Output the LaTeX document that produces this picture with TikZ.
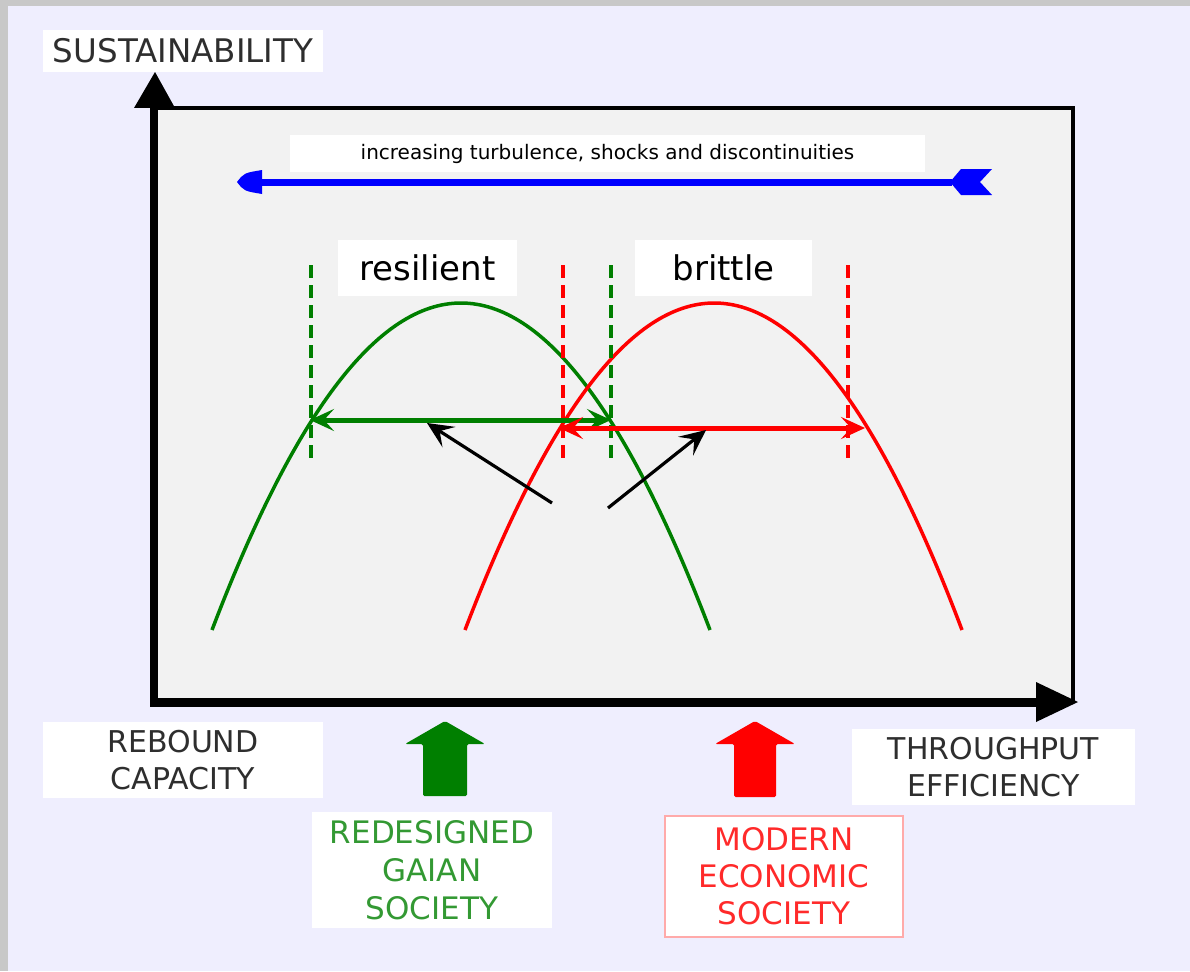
\documentclass[tikz,border=0pt]{standalone}
\usepackage{fontspec}
\setmainfont{DejaVu Sans}
\usetikzlibrary{arrows.meta}
\definecolor{bgout}{HTML}{C8C8C8}
\definecolor{lav}{HTML}{EFEEFE}
\definecolor{plotbg}{HTML}{F2F2F2}
\definecolor{gcurve}{HTML}{007F00}
\definecolor{rcurve}{HTML}{FF0000}
\definecolor{gtext}{HTML}{339933}
\definecolor{rtext}{HTML}{FF2A2A}
\definecolor{lbltext}{HTML}{2E2E2E}
\definecolor{pinkbd}{HTML}{FFAAAA}
\definecolor{blueline}{HTML}{0000FF}
\begin{document}
\begin{tikzpicture}[x=1pt,y=-1pt,
  whitebox/.style={fill=white, draw=none, inner sep=0pt, align=center},
  axlbl/.style={whitebox, text=lbltext, font=\fontsize{30}{37}\selectfont},
  comic/.style={whitebox, text=black, font=\fontsize{34}{40}\selectfont},
  curve/.style={line width=3.5pt},
  vdash/.style={line width=4pt, dash pattern=on 13pt off 7pt},
  dbl/.style={line width=5pt, {Stealth[length=24pt 0 0,width=22pt 0 0,inset=10pt 0]}-{Stealth[length=24pt 0 0,width=22pt 0 0,inset=10pt 0]}},
  shiftarrow/.style={line width=3.2pt, -{Stealth[length=26pt 0 0,width=24pt 0 0,inset=11pt 0]}}
]
\useasboundingbox (0,0) rectangle (1190,971);
\fill[bgout] (0,0) rectangle (1190,971);
\fill[lav] (8,6) rectangle (1190,971);

% plot area
\fill[plotbg] (154,108) rectangle (1073,702);
\coordinate (tl) at (154,108);
\coordinate (tr) at (1073,108);
\coordinate (br) at (1073,702);
\draw[line width=3.5pt] (tl) -- (tr) -- (br);
% axes
\coordinate (origin) at (154,702);
\coordinate (yhead) at (154,108);
\coordinate (xhead) at (1036,702);
\draw[line width=8pt] (154,706) -- (yhead);
\draw[line width=9pt] (150,702) -- (xhead);
\fill (134,108) -- (155,72) -- (175,108) -- cycle;
\fill (1036,682) -- (1078,702) -- (1036,722) -- cycle;

% labels
\node[axlbl, font=\fontsize{32.5}{38}\selectfont, minimum width=280pt, minimum height=42pt] (sust) at (183,51) {SUSTAINABILITY};
\node[axlbl, minimum width=280pt, minimum height=76pt] (rebound) at (183,760) {REBOUND\\CAPACITY};
\node[axlbl, minimum width=283pt, minimum height=76pt] (through) at (993.5,767) {THROUGHPUT\\EFFICIENCY};
\node[whitebox, text=gtext, font=\fontsize{31}{38}\selectfont, minimum width=240pt, minimum height=116pt] (gaian) at (432,870) {REDESIGNED\\GAIAN\\SOCIETY};
\node[whitebox, draw=pinkbd, line width=1.2pt, text=rtext, font=\fontsize{31}{37}\selectfont, minimum width=238pt, minimum height=121pt] (modern) at (784,876.5) {MODERN\\ECONOMIC\\SOCIETY};

% turbulence
\node[whitebox, text=black, font=\fontsize{20}{24}\selectfont, minimum width=635pt, minimum height=37pt] (turb) at (607.5,153.5) {increasing turbulence, shocks and discontinuities};
\coordinate (bl) at (262,182);
\coordinate (bt) at (952,182);
\draw[blueline, line width=7pt] (bl) -- (bt);
\fill[blueline] (237,182) .. controls (244,173) .. (262,170) -- (262,194) .. controls (244,191) .. cycle;
\fill[blueline] (950,182) -- (961,169) -- (992,169) -- (980,182) -- (992,195) -- (961,195) -- cycle;

\node[comic, minimum width=179pt, minimum height=56pt] (res) at (427.5,268) {resilient};
\node[comic, minimum width=177pt, minimum height=56pt] (brit) at (723.5,268) {brittle};

% curves
\draw[gcurve, curve] (212,630) .. controls (378,194) and (544,194) .. (710,630);
\draw[rcurve, curve] (465,630) .. controls (631.3,194) and (797.7,194) .. (962,630);

% dashed verticals
\draw[gcurve, vdash] (311,265) -- (311,465);
\draw[gcurve, vdash] (611,265) -- (611,465);
\draw[rcurve, vdash] (563,265) -- (563,465);
\draw[rcurve, vdash] (848,265) -- (848,465);

% range arrows
\coordinate (gL) at (310,420);
\coordinate (gR) at (611,420);
\coordinate (rL) at (559,428);
\coordinate (rR) at (865,428);
\draw[gcurve, dbl] (gL) -- (gR);
\draw[rcurve, dbl] (rL) -- (rR);

% shift arrows
\coordinate (s1a) at (552,503);
\coordinate (s1b) at (427,423);
\coordinate (s2a) at (608,508);
\coordinate (s2b) at (706,430);
\draw[shiftarrow] (s1a) -- (s1b);
\draw[shiftarrow] (s2a) -- (s2b);

% block arrows
\fill[gcurve, rounded corners=1.5pt] (445,721) -- (485,744) -- (467,744) -- (467,796) -- (423,796) -- (423,744) -- (405,744) -- cycle;
\fill[rcurve, rounded corners=1.5pt] (755,721) -- (795,744) -- (776,744) -- (776,797) -- (734,797) -- (734,744) -- (715,744) -- cycle;
\end{tikzpicture}
\end{document}
